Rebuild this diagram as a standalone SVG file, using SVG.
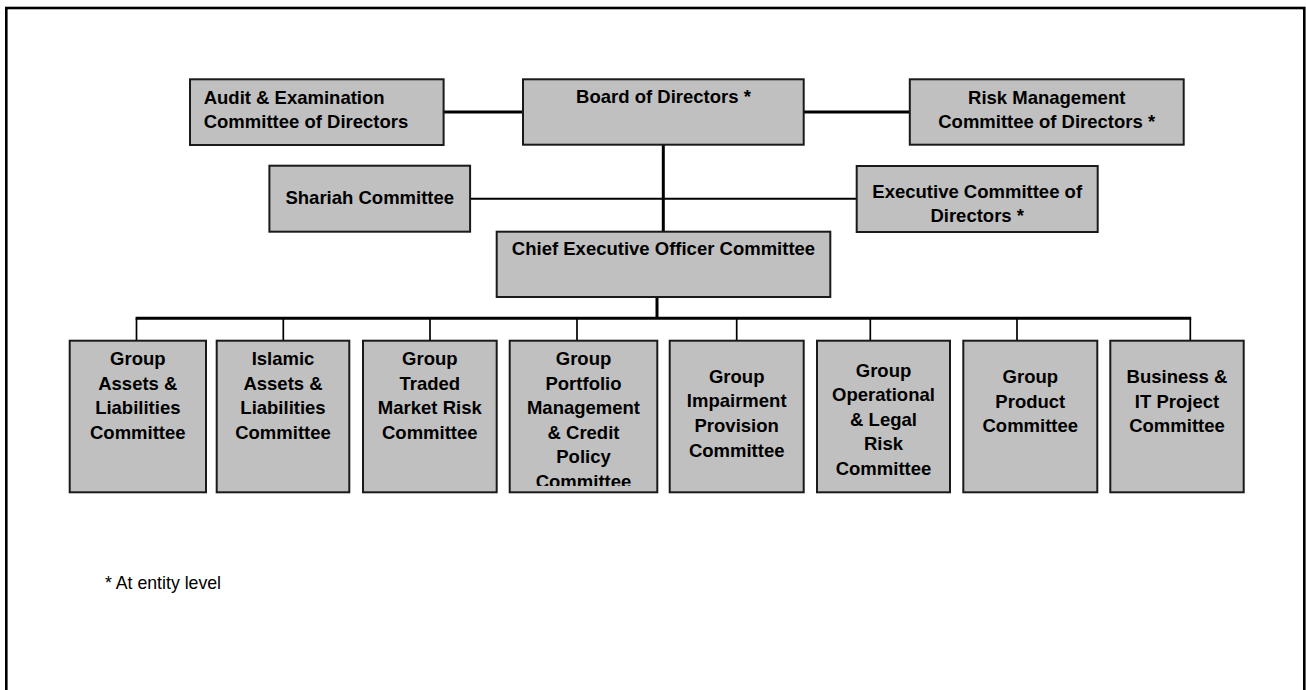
<svg xmlns="http://www.w3.org/2000/svg" width="1306" height="690" viewBox="0 0 1306 690">
<defs>
<style>
.box{fill:#c0c0c0;stroke:#1a1a1a;stroke-width:2}
.t{font-family:"Liberation Sans",Arial,sans-serif;font-weight:bold;font-size:18.5px;fill:#000}
.c{text-anchor:middle}
.thick{stroke:#000;stroke-width:3;fill:none}
.thin{stroke:#000;stroke-width:2;fill:none}
.drop{stroke:#000;stroke-width:1.7;fill:none}
.note{font-family:"Liberation Sans",Arial,sans-serif;font-size:17.7px;fill:#000}
</style>
<clipPath id="clip4"><rect x="509" y="340" width="149" height="146"/></clipPath>
</defs>
<rect x="6.3" y="8" width="1298" height="700" fill="#fff" stroke="#000" stroke-width="2.6"/>

<g id="connectors">
<line class="thick" x1="443.6" y1="112" x2="523" y2="112"/>
<line class="thick" x1="803.7" y1="112" x2="909.8" y2="112"/>
<line class="thick" x1="663.3" y1="144.7" x2="663.3" y2="231.7"/>
<line class="thin" x1="470" y1="198.7" x2="856.7" y2="198.7"/>
<line class="thick" x1="657" y1="297" x2="657" y2="318.3"/>
<line class="thick" x1="135.6" y1="318.3" x2="1191.2" y2="318.3"/>
<line class="drop" x1="136.5" y1="318.3" x2="136.5" y2="340.7"/>
<line class="drop" x1="283.3" y1="318.3" x2="283.3" y2="340.7"/>
<line class="drop" x1="430" y1="318.3" x2="430" y2="340.7"/>
<line class="drop" x1="577" y1="318.3" x2="577" y2="340.7"/>
<line class="drop" x1="736.7" y1="318.3" x2="736.7" y2="340.7"/>
<line class="drop" x1="870.3" y1="318.3" x2="870.3" y2="340.7"/>
<line class="drop" x1="1017" y1="318.3" x2="1017" y2="340.7"/>
<line class="drop" x1="1190.3" y1="318.3" x2="1190.3" y2="340.7"/>
</g>

<g id="audit">
<rect class="box" x="190" y="79.3" width="253.6" height="65.7"/>
<text class="t" x="203.7" y="104">Audit &amp; Examination</text>
<text class="t" x="203.7" y="128">Committee of Directors</text>
</g>
<g id="board">
<rect class="box" x="523" y="79.3" width="280.7" height="65.4"/>
<text class="t c" x="663.5" y="103">Board of Directors *</text>
</g>
<g id="risk">
<rect class="box" x="909.8" y="79.3" width="273.9" height="65.4"/>
<text class="t c" x="1046.7" y="104">Risk Management</text>
<text class="t c" x="1046.7" y="128">Committee of Directors *</text>
</g>
<g id="shariah">
<rect class="box" x="269.4" y="165.7" width="200.7" height="66"/>
<text class="t c" x="369.8" y="204">Shariah Committee</text>
</g>
<g id="executive">
<rect class="box" x="856.7" y="166" width="241" height="66"/>
<text class="t c" x="977.2" y="198.3">Executive Committee of</text>
<text class="t c" x="977.2" y="222.3">Directors *</text>
</g>
<g id="ceo">
<rect class="box" x="496.7" y="231.7" width="333.6" height="65.3"/>
<text class="t c" x="663.5" y="255">Chief Executive Officer Committee</text>
</g>

<g id="galco">
<rect class="box" x="69.7" y="340.7" width="136.3" height="151.6"/>
<text class="t c" x="137.8" y="365">Group</text>
<text class="t c" x="137.8" y="389.5">Assets &amp;</text>
<text class="t c" x="137.8" y="414">Liabilities</text>
<text class="t c" x="137.8" y="438.5">Committee</text>
</g>
<g id="ialco">
<rect class="box" x="216.7" y="340.7" width="132.6" height="151.6"/>
<text class="t c" x="283" y="365">Islamic</text>
<text class="t c" x="283" y="389.5">Assets &amp;</text>
<text class="t c" x="283" y="414">Liabilities</text>
<text class="t c" x="283" y="438.5">Committee</text>
</g>
<g id="gtmrc">
<rect class="box" x="363" y="340.7" width="133.7" height="151.6"/>
<text class="t c" x="429.8" y="365">Group</text>
<text class="t c" x="429.8" y="389.5">Traded</text>
<text class="t c" x="429.8" y="414">Market Risk</text>
<text class="t c" x="429.8" y="438.5">Committee</text>
</g>
<g id="gpmcpc">
<rect class="box" x="509.7" y="340.7" width="147.6" height="151.6"/>
<g clip-path="url(#clip4)">
<text class="t c" x="583.5" y="365">Group</text>
<text class="t c" x="583.5" y="389.5">Portfolio</text>
<text class="t c" x="583.5" y="414">Management</text>
<text class="t c" x="583.5" y="438.5">&amp; Credit</text>
<text class="t c" x="583.5" y="463">Policy</text>
<text class="t c" x="583.5" y="487.5">Committee</text>
</g>
</g>
<g id="gipc">
<rect class="box" x="669.7" y="340.7" width="134" height="151.6"/>
<text class="t c" x="736.7" y="382.7">Group</text>
<text class="t c" x="736.7" y="407.3">Impairment</text>
<text class="t c" x="736.7" y="432">Provision</text>
<text class="t c" x="736.7" y="456.7">Committee</text>
</g>
<g id="golrc">
<rect class="box" x="817" y="340.7" width="133" height="151.6"/>
<text class="t c" x="883.5" y="376.5">Group</text>
<text class="t c" x="883.5" y="401">Operational</text>
<text class="t c" x="883.5" y="425.5">&amp; Legal</text>
<text class="t c" x="883.5" y="450">Risk</text>
<text class="t c" x="883.5" y="475">Committee</text>
</g>
<g id="gpc">
<rect class="box" x="963.3" y="340.7" width="134" height="151.6"/>
<text class="t c" x="1030.3" y="382.7">Group</text>
<text class="t c" x="1030.3" y="407.5">Product</text>
<text class="t c" x="1030.3" y="432.3">Committee</text>
</g>
<g id="bitpc">
<rect class="box" x="1110.3" y="340.7" width="133.4" height="151.6"/>
<text class="t c" x="1177" y="382.7">Business &amp;</text>
<text class="t c" x="1177" y="407.5">IT Project</text>
<text class="t c" x="1177" y="432.3">Committee</text>
</g>

<text class="note" x="105" y="589.3">* At entity level</text>
</svg>
